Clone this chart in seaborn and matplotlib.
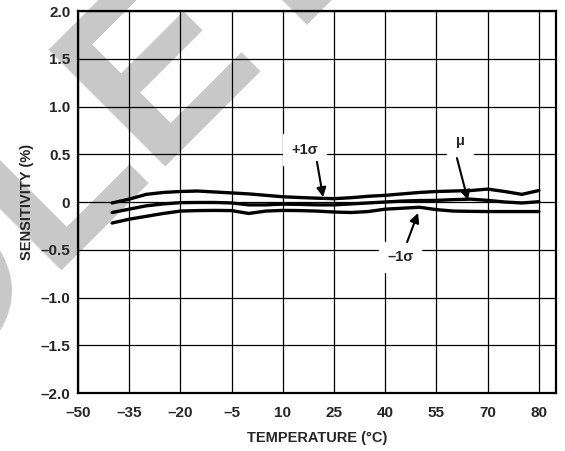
import numpy as np
import pandas as pd
import matplotlib
matplotlib.use("Agg")
import matplotlib.pyplot as plt
import seaborn as sns

# temperature positions on the axis (last grid line is labelled "80")
temp = [-40, -35, -30, -25, -20, -15, -10, -5, 0, 5, 10, 15, 20, 25,
        30, 35, 40, 45, 50, 55, 60, 65, 70, 75, 80, 85]

plus_sigma = [-0.01, 0.03, 0.08, 0.10, 0.11, 0.115, 0.105, 0.095, 0.085, 0.07,
              0.055, 0.047, 0.04, 0.035, 0.045, 0.06, 0.07, 0.085, 0.10, 0.11,
              0.115, 0.12, 0.135, 0.11, 0.08, 0.12]
mean = [-0.11, -0.075, -0.04, -0.02, -0.007, -0.005, -0.005, -0.01, -0.03, -0.03,
        -0.022, -0.025, -0.03, -0.03, -0.02, -0.01, 0.0, 0.01, 0.015, 0.017,
        0.025, 0.03, 0.017, 0.0, -0.01, 0.003]
minus_sigma = [-0.22, -0.18, -0.15, -0.12, -0.095, -0.09, -0.088, -0.09, -0.12, -0.095,
               -0.088, -0.09, -0.095, -0.105, -0.11, -0.1, -0.075, -0.065, -0.055, -0.08,
               -0.095, -0.098, -0.1, -0.1, -0.1, -0.1]

x_ticks = [-50, -35, -20, -5, 10, 25, 40, 55, 70, 85]
x_labels = ["\u201350", "\u201335", "\u201320", "\u20135", "10", "25", "40", "55", "70", "80"]
y_ticks = [2.0, 1.5, 1.0, 0.5, 0, -0.5, -1.0, -1.5, -2.0]
y_labels = ["2.0", "1.5", "1.0", "0.5", "0", "\u20130.5", "\u20131.0", "\u20131.5", "\u20132.0"]

sns.set_style("white")
plt.rcParams["font.family"] = ["Liberation Sans", "DejaVu Sans"]
plt.rcParams["font.weight"] = "bold"

fig = plt.figure(figsize=(5.65, 4.51), dpi=100)
ax = fig.add_axes([0.138, 0.1286, 0.846, 0.847])
ax.set_facecolor("none")

# big grey watermark behind everything
fig.text(-0.80, -0.718, "OBSOLETE", fontsize=173, fontweight="bold",
         color="#c8c8c8", rotation=45, rotation_mode="anchor",
         ha="left", va="baseline", zorder=-5)

for vals in [plus_sigma, mean, minus_sigma]:
    sns.lineplot(x=temp, y=vals, ax=ax, color="black", linewidth=2.4, sort=False)

ax.set_xlim(-50, 90)
ax.set_ylim(-2.0, 2.0)
ax.set_xticks(x_ticks)
ax.set_xticklabels(x_labels)
ax.set_yticks(y_ticks)
ax.set_yticklabels(y_labels)
ax.tick_params(length=0, labelsize=11)
ax.tick_params(axis="x", pad=9)
ax.tick_params(axis="y", pad=5.5)
ax.grid(True, color="black", linewidth=0.9)
for s in ax.spines.values():
    s.set_visible(True)
    s.set_color("black")
    s.set_linewidth(1.6)

ax.set_xlabel("TEMPERATURE (\u00b0C)", fontsize=10.5, fontweight="bold", labelpad=8)
ax.set_ylabel("SENSITIVITY (%)", fontsize=10.5, fontweight="bold", labelpad=5)

box = dict(boxstyle="square,pad=0.6", facecolor="white", edgecolor="none")
ax.text(16.5, 0.545, "+1\u03c3", fontsize=10.5, fontweight="bold", ha="center", va="center", bbox=box)
ax.text(62.0, 0.64, "\u03bc", fontsize=10.5, fontweight="bold", ha="center", va="center", bbox=box)
ax.text(44.5, -0.58, "\u20131\u03c3", fontsize=10.5, fontweight="bold", ha="center", va="center", bbox=box)

arrow = dict(arrowstyle="-|>", color="black", lw=1.5, mutation_scale=14, shrinkA=0, shrinkB=0)
ax.annotate("", xy=(21.8, 0.05), xytext=(20.0, 0.42), arrowprops=arrow)
ax.annotate("", xy=(64.2, 0.02), xytext=(61.0, 0.46), arrowprops=arrow)
ax.annotate("", xy=(49.6, -0.115), xytext=(46.4, -0.42), arrowprops=arrow)

fig.savefig("out.png", dpi=100)
